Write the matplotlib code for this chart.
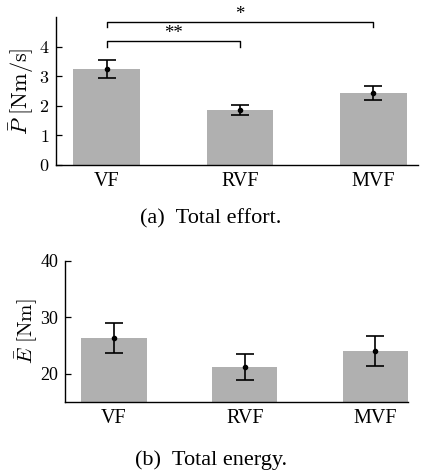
import matplotlib
matplotlib.use("Agg")
import matplotlib.pyplot as plt

categories = ["VF", "RVF", "MVF"]
effort_mean = [3.24, 1.85, 2.43]
effort_err = [0.30, 0.16, 0.25]
energy_mean = [26.3, 21.2, 24.05]
energy_err = [2.65, 2.35, 2.7]
effort_yticks = [0, 1, 2, 3, 4]
energy_yticks = [20, 30, 40]
sig_pairs = [(0, 1, "**"), (0, 2, "*")]
sig_levels = [(4.0, 4.17), (4.65, 4.82)]

plt.rcParams["font.family"] = ["Liberation Serif", "DejaVu Serif"]
plt.rcParams["mathtext.fontset"] = "cm"

fig = plt.figure(figsize=(4.22, 4.70), dpi=100)
bar_color = "#b0b0b0"

def style(ax):
    for s in ["top", "right"]:
        ax.spines[s].set_visible(False)
    ax.spines["left"].set_linewidth(1.0)
    ax.spines["bottom"].set_linewidth(1.0)
    ax.tick_params(axis="y", direction="in", length=4, width=0.9, labelsize=13, pad=5)
    ax.tick_params(axis="x", length=0, labelsize=14.5, pad=5)

x = list(range(len(categories)))

# Top panel
ax1 = fig.add_axes([0.1327, 0.649, 0.858, 0.315])
ax1.bar(x, effort_mean, width=0.5, color=bar_color)
ax1.errorbar(x, effort_mean, yerr=effort_err, fmt="o", color="black",
             markersize=3, capsize=6.5, elinewidth=1.2, capthick=1.2)
ax1.set_ylim(0, 5.0)
ax1.set_xlim(-0.38, 2.335)
ax1.set_yticks(effort_yticks)
ax1.set_yticklabels([f"${v}$" for v in effort_yticks])
ax1.set_xticks(x)
ax1.set_xticklabels(categories)
ax1.set_ylabel(r"$\bar{P}\ [\mathrm{Nm/s}]$", fontsize=16, labelpad=2)
style(ax1)
for (i, j, lab), (lo, hi) in zip(sig_pairs, sig_levels):
    ax1.plot([x[i], x[i], x[j], x[j]], [lo, hi, hi, lo], color="black", lw=1.0,
             clip_on=False)
    ax1.text((x[i] + x[j]) / 2, hi - 0.02, lab, ha="center", va="bottom", fontsize=13.5)
fig.text(0.5, 0.534, "(a)  Total effort.", ha="center", va="center", fontsize=16)

# Bottom panel
ax2 = fig.add_axes([0.154, 0.1453, 0.813, 0.300])
ax2.bar(x, energy_mean, width=0.5, color=bar_color)
ax2.errorbar(x, energy_mean, yerr=energy_err, fmt="o", color="black",
             markersize=3, capsize=6.5, elinewidth=1.2, capthick=1.2)
ax2.set_ylim(15.1, 40)
ax2.set_xlim(-0.375, 2.25)
ax2.set_yticks(energy_yticks)
ax2.set_yticklabels([str(v) for v in energy_yticks])
ax2.set_xticks(x)
ax2.set_xticklabels(categories)
ax2.set_ylabel(r"$\bar{E}\ [\mathrm{Nm}]$", fontsize=15, labelpad=0)
style(ax2)
fig.text(0.5, 0.02, "(b)  Total energy.", ha="center", va="center", fontsize=16)

fig.savefig("out.png", dpi=100)
